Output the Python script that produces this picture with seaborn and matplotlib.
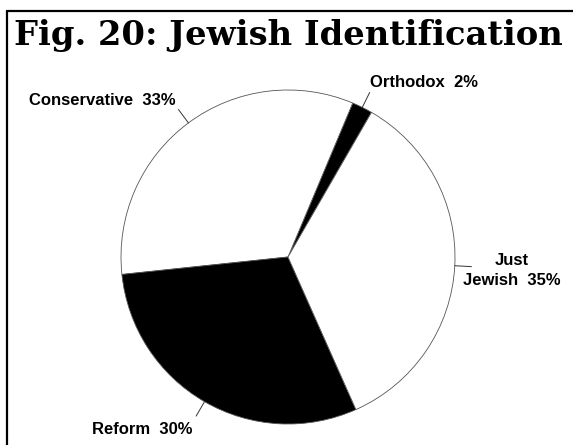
import numpy as np
import matplotlib
matplotlib.use("Agg")
import matplotlib.pyplot as plt
from matplotlib.lines import Line2D
import seaborn as sns

# Survey shares by denomination (percent), in counter-clockwise drawing order
categories = ["Orthodox", "Conservative", "Reform", "Just\nJewish"]
shares = [2, 33, 30, 35]
wedge_colors = ["black", "white", "black", "white"]
title = "Fig. 20: Jewish Identification"
start_angle = 60

sns.set_theme(style="white")
plt.rcParams["font.family"] = ["Liberation Sans", "DejaVu Sans"]

W, H, DPI = 573, 445, 100
fig = plt.figure(figsize=(W / DPI, H / DPI), dpi=DPI)
fig.patch.set_facecolor("white")
ax = fig.add_axes([0, 0, 1, 1])

wedges, _ = ax.pie(
    shares,
    colors=wedge_colors,
    startangle=start_angle,
    counterclock=True,
    radius=1.0,
    wedgeprops=dict(edgecolor="#555555", linewidth=0.6),
)

# one data unit = pie radius in pixels; place the pie centre in the figure
R_PX = 167.0
CX, CY = 288.0, 257.0  # pixel position of the centre (y from top)
ax.set_xlim(-CX / R_PX, (W - CX) / R_PX)
ax.set_ylim(-(H - CY) / R_PX, CY / R_PX)
ax.set_aspect("auto")
ax.axis("off")

# label placement: (ha, dx, dy) offsets in pixels from the end of the leader
label_style = {
    "Orthodox": ("left", 0, 10),
    "Conservative": ("right", -3, 9),
    "Reform": ("right", -4, -13),
    "Just\nJewish": ("center", 40, -4),
}

cum = np.cumsum([0] + shares[:-1])
total = float(sum(shares))
for name, val, c0 in zip(categories, shares, cum):
    mid = np.deg2rad(start_angle + 360.0 * (c0 + val / 2.0) / total)
    x0, y0 = np.cos(mid), np.sin(mid)
    x1, y1 = 1.1 * x0, 1.1 * y0
    ax.plot([x0, x1], [y0, y1], color="#333333", lw=0.7)
    ha, dx, dy = label_style[name]
    ax.text(
        x1 + dx / R_PX, y1 + dy / R_PX, f"{name}  {val}%",
        ha=ha, va="center", multialignment="center",
        fontsize=12, fontweight="bold", color="black", linespacing=1.45,
    )

# title and the partial border around the figure
fig.text(288 / W, 1 - 35 / H, title, ha="center", va="center",
         fontsize=24.3, fontweight="bold", family=["DejaVu Serif"], color="black")
fig.add_artist(Line2D([7 / W, 1.0], [1 - 11 / H, 1 - 11 / H], color="black", lw=1.6))
fig.add_artist(Line2D([7 / W, 7 / W], [0.0, 1 - 11 / H], color="black", lw=1.6))

fig.savefig("out.png", dpi=DPI, facecolor="white")
